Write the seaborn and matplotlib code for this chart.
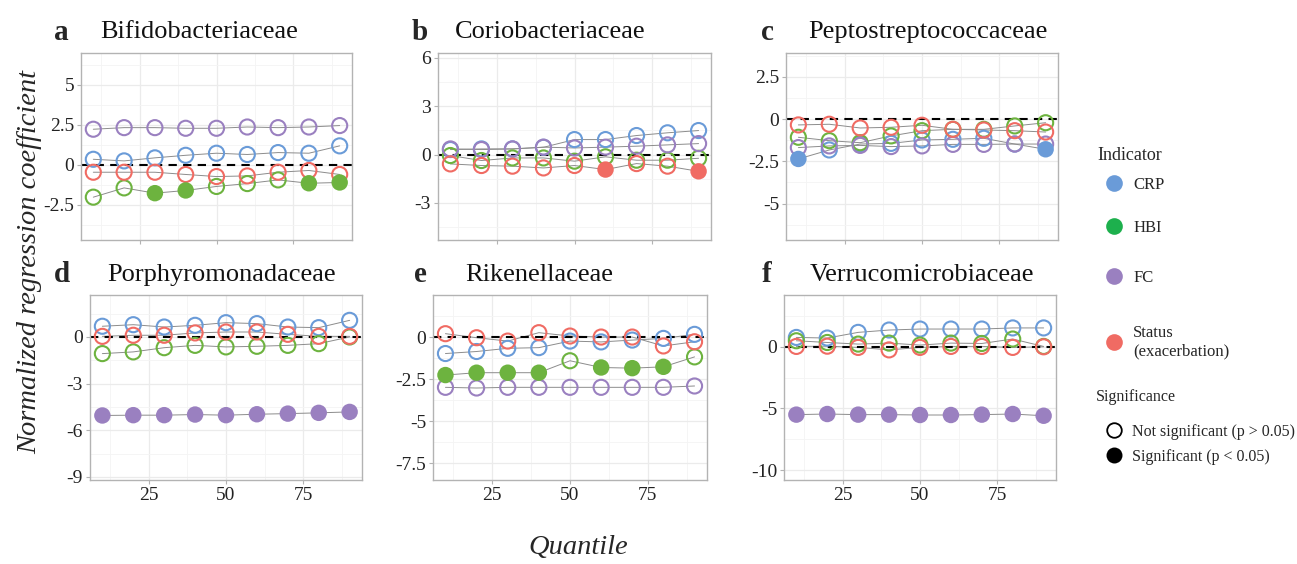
import numpy as np
import pandas as pd
import matplotlib
matplotlib.use("Agg")
import matplotlib.pyplot as plt
from matplotlib.lines import Line2D
from matplotlib.ticker import MultipleLocator, FixedLocator
import seaborn as sns

sns.set_theme(style="whitegrid")
plt.rcParams["font.family"] = ["Liberation Serif", "DejaVu Serif"]
plt.rcParams["axes.unicode_minus"] = False

# ---------------- data ----------------
quantiles = [10, 20, 30, 40, 50, 60, 70, 80, 90]
indicators = ["CRP", "HBI", "FC", "Status"]

panel_letters = ["a", "b", "c", "d", "e", "f"]
panel_titles = ["Bifidobacteriaceae", "Coriobacteriaceae", "Peptostreptococcaceae",
                "Porphyromonadaceae", "Rikenellaceae", "Verrucomicrobiaceae"]

# a: Bifidobacteriaceae
a_crp = [0.35, 0.25, 0.44, 0.60, 0.73, 0.65, 0.77, 0.73, 1.19]
a_hbi = [-2.02, -1.44, -1.77, -1.60, -1.35, -1.17, -0.94, -1.15, -1.10]
a_fc = [2.23, 2.33, 2.33, 2.29, 2.29, 2.37, 2.33, 2.37, 2.46]
a_status = [-0.46, -0.46, -0.46, -0.60, -0.73, -0.69, -0.46, -0.35, -0.60]
a_sig = [("HBI", 30), ("HBI", 40), ("HBI", 80), ("HBI", 90)]

# b: Coriobacteriaceae
b_crp = [0.31, 0.35, 0.35, 0.45, 0.93, 0.93, 1.18, 1.35, 1.49]
b_hbi = [-0.06, -0.37, -0.21, -0.21, -0.41, -0.14, -0.35, -0.35, -0.23]
b_fc = [0.35, 0.31, 0.35, 0.46, 0.41, 0.46, 0.52, 0.60, 0.68]
b_status = [-0.58, -0.68, -0.72, -0.83, -0.68, -0.93, -0.56, -0.72, -1.04]
b_sig = [("Status", 60), ("Status", 90)]

# c: Peptostreptococcaceae
c_crp = [-2.36, -1.83, -1.48, -1.44, -1.24, -1.20, -1.14, -1.48, -1.79]
c_hbi = [-1.08, -1.28, -1.40, -1.00, -0.69, -0.61, -0.61, -0.41, -0.22]
c_fc = [-1.69, -1.59, -1.56, -1.63, -1.59, -1.50, -1.50, -1.48, -1.48]
c_status = [-0.35, -0.31, -0.53, -0.49, -0.37, -0.61, -0.65, -0.69, -0.77]
c_sig = [("CRP", 10), ("CRP", 90)]

# d: Porphyromonadaceae
d_crp = [0.69, 0.79, 0.64, 0.75, 0.92, 0.86, 0.64, 0.60, 1.07]
d_hbi = [-1.07, -0.96, -0.69, -0.54, -0.64, -0.60, -0.54, -0.43, 0.00]
d_fc = [-5.05, -5.03, -5.03, -4.99, -5.03, -4.97, -4.93, -4.88, -4.82]
d_status = [0.04, 0.11, 0.11, 0.26, 0.32, 0.32, 0.17, 0.04, 0.04]
d_sig = [("FC", q) for q in [10, 20, 30, 40, 50, 60, 70, 80, 90]]

# e: Rikenellaceae
e_crp = [-0.98, -0.86, -0.67, -0.63, -0.24, -0.29, -0.18, -0.08, 0.16]
e_hbi = [-2.26, -2.12, -2.12, -2.12, -1.41, -1.81, -1.85, -1.77, -1.18]
e_fc = [-2.99, -3.03, -2.99, -2.99, -2.99, -2.99, -2.99, -2.99, -2.91]
e_status = [0.20, -0.04, -0.24, 0.26, 0.06, 0.00, 0.00, -0.53, -0.28]
e_sig = [("HBI", q) for q in [10, 20, 30, 40, 60, 70, 80]]

# f: Verrucomicrobiaceae
f_crp = [0.76, 0.71, 1.17, 1.36, 1.44, 1.44, 1.44, 1.53, 1.53]
f_hbi = [0.49, 0.35, 0.22, 0.30, 0.14, 0.30, 0.27, 0.63, 0.03]
f_fc = [-5.50, -5.45, -5.50, -5.50, -5.53, -5.53, -5.50, -5.45, -5.59]
f_status = [0.03, 0.05, -0.05, -0.25, -0.05, 0.03, 0.03, -0.05, 0.00]
f_sig = [("FC", q) for q in [10, 20, 30, 40, 50, 60, 70, 80, 90]]

y_ticks = [[-2.5, 0, 2.5, 5], [-3, 0, 3, 6], [-5, -2.5, 0, 2.5],
           [-9, -6, -3, 0], [-7.5, -5, -2.5, 0], [-10, -5, 0]]
y_limits = [(-4.7, 7.0), (-5.3, 6.3), (-7.15, 3.9),
            (-9.2, 2.7), (-8.5, 2.5), (-10.8, 4.2)]
x_ticks = [25, 50, 75]

palette = {"CRP": "#6A9BD8", "HBI": "#6DB33F", "FC": "#9A80C0", "Status": "#F06B63"}
legend_colors = {"CRP": "#6A9BD8", "HBI": "#1DB04D", "FC": "#9A80C0", "Status": "#F06B63"}
ind_labels = ["CRP", "HBI", "FC", "Status\n(exacerbation)"]
sig_labels = ["Not significant (p > 0.05)", "Significant (p < 0.05)"]

panel_series = [
    (a_crp, a_hbi, a_fc, a_status, a_sig),
    (b_crp, b_hbi, b_fc, b_status, b_sig),
    (c_crp, c_hbi, c_fc, c_status, c_sig),
    (d_crp, d_hbi, d_fc, d_status, d_sig),
    (e_crp, e_hbi, e_fc, e_status, e_sig),
    (f_crp, f_hbi, f_fc, f_status, f_sig),
]

def build_df(crp, hbi, fc, status, sig):
    rows = []
    sigset = set(sig)
    for ind, vals in zip(indicators, [crp, hbi, fc, status]):
        for q, v in zip(quantiles, vals):
            rows.append({"quantile": q, "coef": v, "indicator": ind,
                         "sig": (ind, q) in sigset})
    return pd.DataFrame(rows)

# ---------------- layout ----------------
W, H = 1297, 564
fig = plt.figure(figsize=(W / 100, H / 100), dpi=100)

# pixel boxes (left, top, right, bottom)
boxes = [(81, 53, 352, 240), (438, 53, 711, 240), (786, 53, 1058, 240),
         (90, 295, 362, 480), (433, 295, 707, 480), (784, 295, 1056, 480)]
letter_pos = [(54, 32), (412, 32), (761, 32), (54, 275), (414, 275), (762, 275)]
title_pos = [(100, 32), (455, 32), (808, 32), (107, 275), (465, 275), (810, 275)]

grid_col = "#EBEBEB"
spine_col = "#B3B3B3"

for i in range(6):
    l, t, r, b = boxes[i]
    ax = fig.add_axes([l / W, (H - b) / H, (r - l) / W, (b - t) / H])
    df = build_df(*panel_series[i])

    sns.lineplot(data=df, x="quantile", y="coef", units="indicator",
                 estimator=None, color="#8C8C8C", lw=0.7, ax=ax, zorder=2,
                 sort=True)
    ns = df[~df["sig"]]
    sg = df[df["sig"]]
    if len(ns):
        sns.scatterplot(data=ns, x="quantile", y="coef", hue="indicator",
                        palette=palette, s=118, ax=ax, legend=False,
                        linewidth=1.5, zorder=3)
        coll = ax.collections[-1]
        fcs = coll.get_facecolors()
        coll.set_edgecolors(fcs)
        coll.set_facecolors("none")
    if len(sg):
        sns.scatterplot(data=sg, x="quantile", y="coef", hue="indicator",
                        palette=palette, s=140, ax=ax, legend=False,
                        linewidth=0, zorder=4)

    ax.axhline(0, color="black", ls=(0, (4, 3)), lw=1.5, zorder=2.5)

    ax.set_xlim(6, 94)
    ax.set_ylim(*y_limits[i])
    ax.xaxis.set_major_locator(FixedLocator(x_ticks))
    ax.xaxis.set_minor_locator(FixedLocator([12.5, 37.5, 62.5, 87.5]))
    yt = y_ticks[i]
    step = yt[1] - yt[0]
    ax.yaxis.set_major_locator(FixedLocator(yt))
    ax.yaxis.set_minor_locator(MultipleLocator(step / 2))
    ax.set_yticklabels([("%g" % v) for v in yt])
    if i >= 3:
        ax.set_xticklabels([str(v) for v in x_ticks])
    else:
        ax.set_xticklabels([])
    ax.set_xlabel("")
    ax.set_ylabel("")
    ax.set_facecolor("white")
    ax.grid(True, which="major", color=grid_col, lw=0.9)
    ax.grid(True, which="minor", color="#F4F4F4", lw=0.6)
    ax.set_axisbelow(True)
    for s in ax.spines.values():
        s.set_color(spine_col)
        s.set_linewidth(1.0)
        s.set_visible(True)
    ax.tick_params(axis="both", which="major", length=3, width=0.8,
                   color=spine_col, labelsize=14, pad=2, labelcolor="#222222",
                   bottom=True, left=True)
    ax.tick_params(axis="both", which="minor", length=0)

    fig.text(letter_pos[i][0] / W, 1 - letter_pos[i][1] / H, panel_letters[i],
             fontsize=21, fontweight="bold", va="center", ha="left")
    fig.text(title_pos[i][0] / W, 1 - title_pos[i][1] / H, panel_titles[i],
             fontsize=19, va="center", ha="left", color="#111111")

fig.text(30 / W, 1 - 262 / H, "Normalized regression coefficient",
         rotation=90, fontsize=20.5, style="italic", va="center", ha="center")
fig.text(578 / W, 1 - 548 / H, "Quantile", fontsize=20.5, style="italic",
         va="center", ha="center")

# ---------------- legends ----------------
fig.text(1097 / W, 1 - 155 / H, "Indicator", fontsize=13, va="center", ha="left")
fig.text(1096 / W, 1 - 397 / H, "Significance", fontsize=11.5, va="center", ha="left")

def single_entry(handle, label, y_px, fs):
    lg = fig.legend([handle], [label], loc="center left",
                    bbox_to_anchor=(1104 / W, 1 - y_px / H), frameon=False,
                    fontsize=fs, handletextpad=0.55, borderaxespad=0,
                    borderpad=0, handlelength=1.2)
    return lg

ind_y = [185, 228, 278, 342]
for k, lab, y in zip(indicators, ind_labels, ind_y):
    h = Line2D([], [], marker="o", ls="none", markersize=12,
               markerfacecolor=legend_colors[k], markeredgewidth=0)
    single_entry(h, lab, y, 12)

sig_handles = [Line2D([], [], marker="o", ls="none", markersize=10.5,
                      markerfacecolor="none", markeredgecolor="black",
                      markeredgewidth=1.3),
               Line2D([], [], marker="o", ls="none", markersize=11.5,
                      markerfacecolor="black", markeredgewidth=0)]
for h, lab, y in zip(sig_handles, sig_labels, [432, 457]):
    single_entry(h, lab, y, 11.5)

fig.savefig("out.png", dpi=100, facecolor="white")
